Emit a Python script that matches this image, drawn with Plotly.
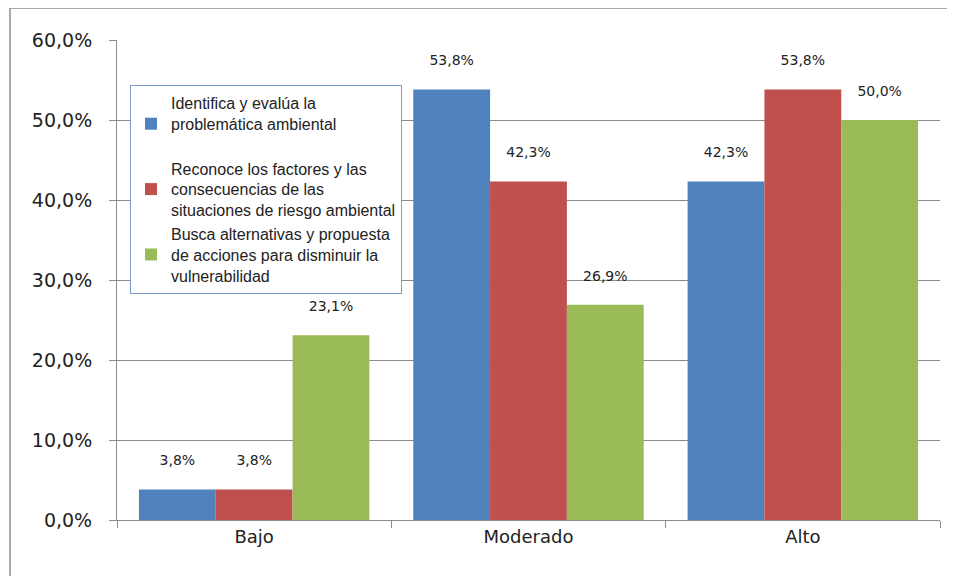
import plotly.graph_objects as go

categories = ["Bajo", "Moderado", "Alto"]
series_names = [
    "Identifica y evalúa la<br>problemática ambiental<br> ",
    "Reconoce los factores y las<br>consecuencias de las<br>situaciones de riesgo ambiental",
    "Busca alternativas y propuesta<br>de acciones para disminuir la<br>vulnerabilidad",
]
identifica = [3.8, 53.8, 42.3]
reconoce = [3.8, 42.3, 53.8]
busca = [23.1, 26.9, 50.0]
colors = ["#4F81BD", "#C0504D", "#9BBB59"]
y_ticks = [0, 10, 20, 30, 40, 50, 60]
y_tick_labels = ["0,0%", "10,0%", "20,0%", "30,0%", "40,0%", "50,0%", "60,0%"]

font_family = "DejaVu Sans"
legend_family = "Liberation Sans"

fig = go.Figure()
for name, vals, col in zip(series_names, [identifica, reconoce, busca], colors):
    fig.add_trace(go.Bar(
        name=name, x=categories, y=vals, marker=dict(color=col, line=dict(width=0)),
        texttemplate="%{y:.1f}%<br> ", textposition="outside",
        textfont=dict(family=font_family, size=14, color="#222"),
        cliponaxis=False, legendgroup=name,
    ))

# The page body has an 8px offset; sizes below are chosen for the visible window
# and kept small enough that no scrollbars appear.
OFF = 8
W, H = 955 - 2 * OFF, 584 - 2 * OFF
L, T = 117 - OFF, 40 - OFF
R = W - (940 - OFF)
B = H - (520 - OFF)
pw, ph = W - L - R, H - T - B

def px_x(x):
    return (x - OFF - L) / pw

def px_y(y):
    return (H - B - (y - OFF)) / ph

fx0, fy_top, fy_bot = px_x(10), px_y(8), px_y(700)
fx_right = px_x(W + OFF)

fig.update_layout(
    width=W, height=H,
    margin=dict(l=L, r=R, t=T, b=B),
    paper_bgcolor="white", plot_bgcolor="white",
    separators=",.",
    barmode="group", bargap=0.16, bargroupgap=0,
    font=dict(family=font_family, color="#222"),
    showlegend=True,
    legend=dict(
        x=px_x(130), y=px_y(85), xanchor="left", yanchor="top",
        bgcolor="white", bordercolor="#7A9CC6", borderwidth=1,
        font=dict(family=legend_family, size=16, color="#222"),
        tracegroupgap=5, traceorder="normal", itemwidth=30,
    ),
    xaxis=dict(
        showline=True, linecolor="#8C8C8C", linewidth=1,
        ticks="outside", tickson="boundaries", ticklen=7, tickcolor="#8C8C8C",
        tickfont=dict(family=font_family, size=18, color="#222"),
        showgrid=False,
    ),
    yaxis=dict(
        range=[0, 60], tickvals=y_ticks, ticktext=y_tick_labels,
        showline=True, linecolor="#8C8C8C", linewidth=1,
        ticks="outside", ticklen=7, tickcolor="#8C8C8C",
        showgrid=True, gridcolor="#8C8C8C", gridwidth=1,
        zeroline=False, ticklabelstandoff=13,
        tickfont=dict(family=font_family, size=19, color="#222"),
    ),
    shapes=[
        dict(type="line", xref="paper", yref="paper", x0=fx0, x1=fx0, y0=fy_bot, y1=fy_top,
             line=dict(color="#8C8C8C", width=1.5), layer="below"),
        dict(type="line", xref="paper", yref="paper", x0=fx0, x1=fx_right, y0=fy_top, y1=fy_top,
             line=dict(color="#8C8C8C", width=1.5), layer="below"),
    ],
)

fig.write_html("out.html")
